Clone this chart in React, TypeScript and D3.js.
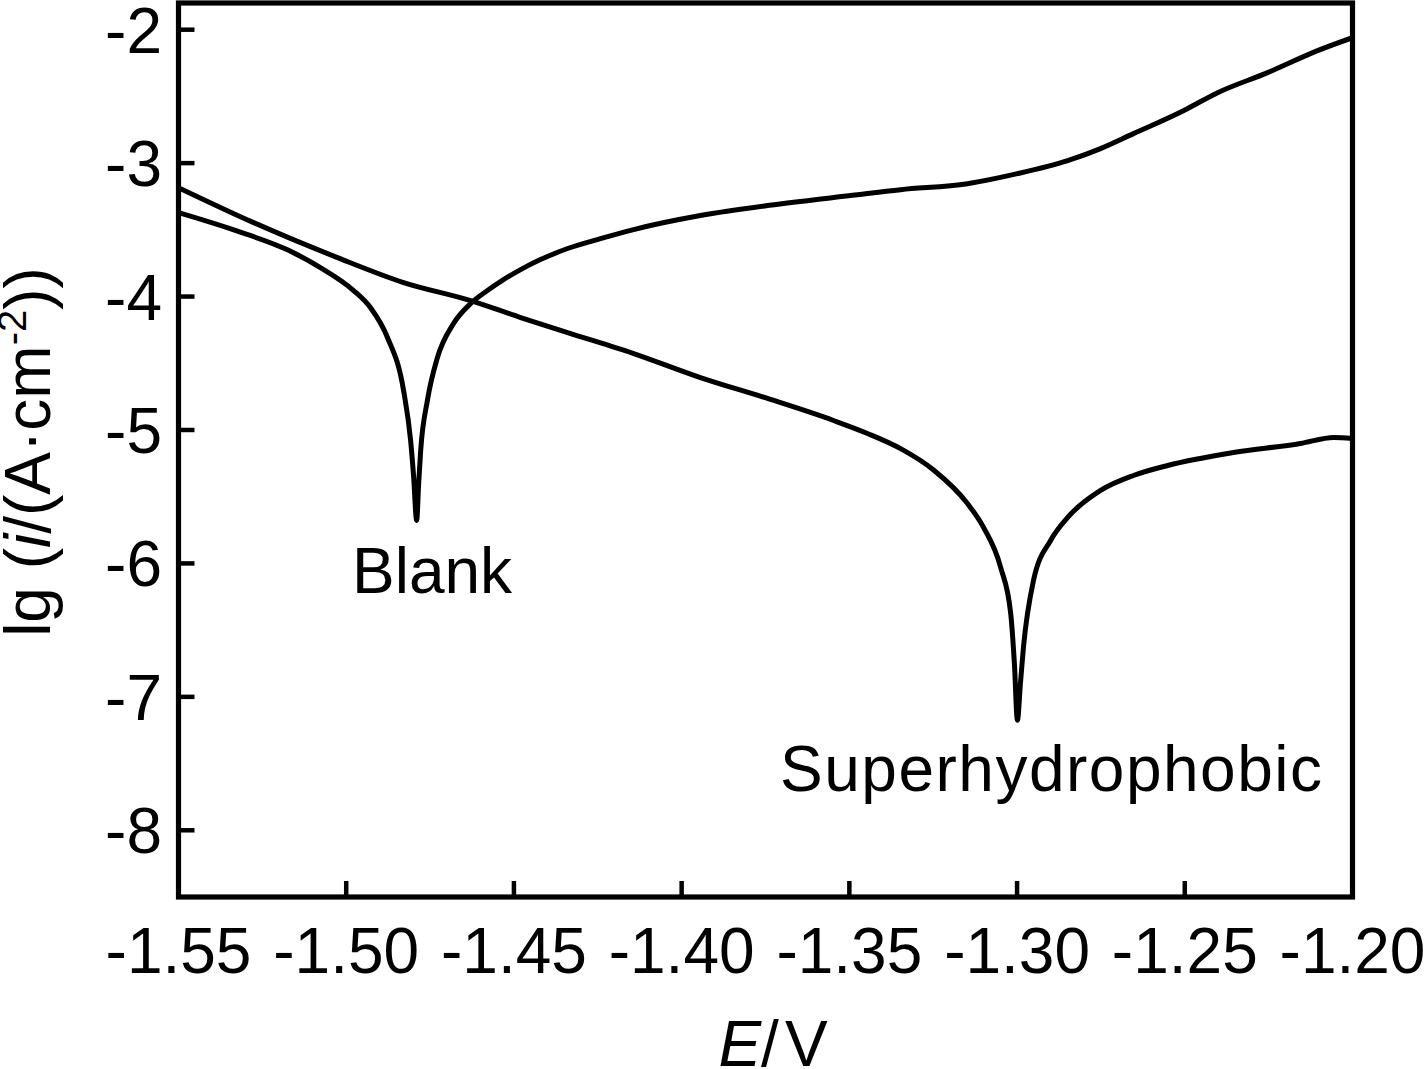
import React from "react";
import * as d3 from "d3";

const blankE = [-1.55, -1.5324, -1.5175, -1.5077, -1.4978, -1.4928, -1.4877, -1.4829, -1.4808, -1.4799, -1.4790, -1.4784, -1.4778, -1.4758, -1.4728, -1.468, -1.4629, -1.4579, -1.4531, -1.448, -1.4421, -1.434, -1.4242, -1.4143, -1.3944, -1.3744, -1.3547, -1.3347, -1.3148, -1.2999, -1.2849, -1.2751, -1.2653, -1.2504, -1.2402, -1.2253, -1.2104, -1.2];
const blankLg = [-3.371, -3.51, -3.65, -3.783, -3.955, -4.082, -4.307, -4.704, -5.079, -5.35, -5.678, -5.4, -5.154, -4.779, -4.457, -4.202, -4.052, -3.955, -3.873, -3.798, -3.723, -3.64, -3.566, -3.498, -3.393, -3.318, -3.258, -3.199, -3.154, -3.079, -2.981, -2.891, -2.779, -2.607, -2.472, -2.322, -2.157, -2.06];

const superE = [-1.55, -1.5276, -1.5026, -1.4829, -1.4629, -1.448, -1.434, -1.4143, -1.3944, -1.3744, -1.3547, -1.3446, -1.3347, -1.3249, -1.3148, -1.31, -1.3049, -1.3019, -1.3008, -1.2999, -1.299, -1.2981, -1.2951, -1.29, -1.2849, -1.2751, -1.2653, -1.2551, -1.2355, -1.2155, -1.2056, -1.2];
const superLg = [-3.184, -3.446, -3.708, -3.895, -4.03, -4.157, -4.27, -4.427, -4.607, -4.764, -4.929, -5.026, -5.14, -5.30, -5.551, -5.73, -6.03, -6.375, -6.75, -7.176, -6.9, -6.629, -6.127, -5.828, -5.655, -5.453, -5.341, -5.266, -5.169, -5.101, -5.056, -5.064];

const xTicks = [-1.55, -1.5, -1.45, -1.4, -1.35, -1.3, -1.25, -1.2];
const yTicks = [-8, -7, -6, -5, -4, -3, -2];

const W = 1427;
const H = 1069;
const left = 178.5, right = 1352.5, top = 3, bottom = 897;
const FONT = "'Liberation Sans', Arial, Helvetica, sans-serif";

export default function App() {
  const x = d3.scaleLinear().domain([-1.55, -1.2]).range([left, right]);
  const y = d3.scaleLinear().domain([-8.5, -1.8]).range([bottom, top]);
  const line = d3
    .line<[number, number]>()
    .x((d) => x(d[0]))
    .y((d) => y(d[1]))
    .curve(d3.curveMonotoneX);
  const blank = blankE.map((e, i) => [e, blankLg[i]] as [number, number]);
  const sup = superE.map((e, i) => [e, superLg[i]] as [number, number]);
  const tickLen = 16;
  return (
    <div style={{ position: "absolute", left: 0, top: 0 }}>
      <svg width={W} height={H} style={{ display: "block", background: "#fff" }} fontFamily={FONT}>
        <defs>
          <clipPath id="plot">
            <rect x={left} y={top} width={right - left} height={bottom - top} />
          </clipPath>
        </defs>
        <g clipPath="url(#plot)" fill="none" stroke="#000" strokeWidth={5} strokeLinejoin="round" strokeLinecap="round">
          <path d={line(blank) || ""} />
          <path d={line(sup) || ""} />
        </g>
        {xTicks.map((t) => (
          <g key={"x" + t}>
            <line x1={x(t)} x2={x(t)} y1={bottom} y2={bottom - tickLen} stroke="#000" strokeWidth={4.5} />
            <text x={x(t)} y={973} fontSize={64} textAnchor="middle">
              {t.toFixed(2)}
            </text>
          </g>
        ))}
        {yTicks.map((t) => (
          <g key={"y" + t}>
            <line x1={left} x2={left + tickLen} y1={y(t)} y2={y(t)} stroke="#000" strokeWidth={4.5} />
            <text x={162} y={y(t)} dy="0.36em" fontSize={64} textAnchor="end">
              {t}
            </text>
          </g>
        ))}
        <rect x={left} y={top} width={right - left} height={bottom - top} fill="none" stroke="#000" strokeWidth={5.2} />
        <text x={352} y={593} fontSize={64}>Blank</text>
        <text x={780} y={791} fontSize={64} letterSpacing={1.5}>Superhydrophobic</text>
        <text x={773} y={1066} fontSize={64} textAnchor="middle">
          <tspan fontStyle="italic">E</tspan>
          <tspan>/</tspan>
          <tspan dx={6}>V</tspan>
        </text>
        <text transform="translate(50,452) rotate(-90)" fontSize={64} textAnchor="middle">
          <tspan>lg (</tspan>
          <tspan fontStyle="italic">i</tspan>
          <tspan>/(A·cm</tspan>
          <tspan fontSize={40} dy={-24}>-2</tspan>
          <tspan dy={24}>))</tspan>
        </text>
      </svg>
    </div>
  );
}
